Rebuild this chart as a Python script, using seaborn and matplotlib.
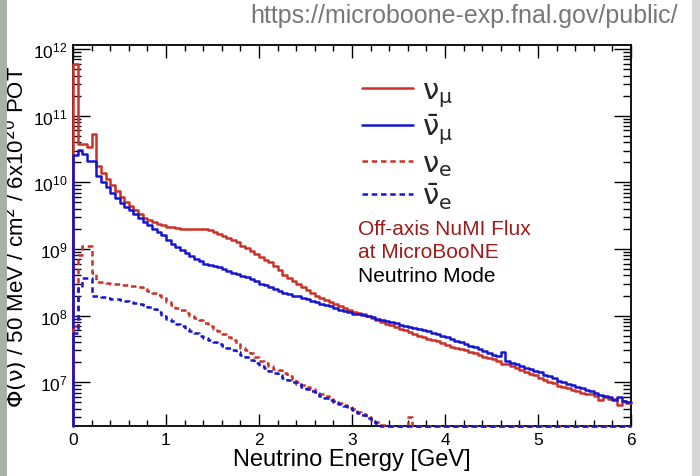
import numpy as np
import pandas as pd
import matplotlib
matplotlib.use("Agg")
import matplotlib.pyplot as plt
from matplotlib.ticker import LogLocator, NullFormatter, MultipleLocator, FixedLocator, LogFormatterSciNotation
from matplotlib.patches import Rectangle
import seaborn as sns

# ---------------- data (flux per 50 MeV bin, 0 - 6 GeV) ----------------
BIN_WIDTH = 0.05
E_MIN, E_MAX = 0.0, 6.0
Y_MIN, Y_MAX = 2.2e6, 1.15e12

numu = [
    6.0e11, 3.8e10, 3.7e10, 3.4e10, 5.3e10, 1.75e10, 1.40e10, 1.12e10, 9.0e9, 7.4e9,
    6.1e9, 5.1e9, 4.4e9, 3.8e9, 3.3e9, 2.95e9, 2.7e9, 2.5e9, 2.35e9, 2.25e9,
    2.15e9, 2.1e9, 2.05e9, 2.02e9, 2.0e9, 2.0e9, 2.0e9, 2.0e9, 1.97e9, 1.9e9,
    1.8e9, 1.68e9, 1.57e9, 1.46e9, 1.35e9, 1.25e9, 1.12e9, 1.02e9, 9.4e8, 8.5e8,
    7.6e8, 6.9e8, 6.3e8, 5.6e8, 4.8e8, 4.1e8, 3.6e8, 3.25e8, 2.95e8, 2.65e8,
    2.4e8, 2.2e8, 2.0e8, 1.85e8, 1.72e8, 1.6e8, 1.5e8, 1.4e8, 1.3e8, 1.22e8,
    1.15e8, 1.1e8, 1.05e8, 9.8e7, 9.2e7, 8.6e7, 8.0e7, 7.5e7, 7.1e7, 6.7e7,
    6.3e7, 6.0e7, 5.7e7, 5.3e7, 5.0e7, 4.8e7, 4.5e7, 4.3e7, 4.1e7, 3.9e7,
    3.6e7, 3.4e7, 3.3e7, 3.15e7, 3.0e7, 2.85e7, 2.7e7, 2.55e7, 2.4e7, 2.3e7,
    2.2e7, 2.05e7, 1.9e7, 1.85e7, 1.75e7, 1.65e7, 1.55e7, 1.42e7, 1.35e7, 1.27e7,
    1.15e7, 1.08e7, 1.02e7, 9.6e6, 8.9e6, 8.6e6, 8.1e6, 7.6e6, 7.5e6, 7.0e6,
    6.6e6, 6.6e6, 6.1e6, 5.4e6, 6.0e6, 5.6e6, 5.5e6, 4.6e6, 5.2e6, 4.9e6,
]

numubar = [
    2.6e10, 3.1e10, 2.7e10, 2.1e10, 2.1e10, 1.25e10, 1.02e10, 8.5e9, 6.9e9, 5.8e9,
    4.9e9, 4.3e9, 3.8e9, 3.35e9, 2.95e9, 2.55e9, 2.25e9, 2.0e9, 1.78e9, 1.6e9,
    1.35e9, 1.2e9, 1.07e9, 9.6e8, 8.8e8, 7.9e8, 7.0e8, 6.5e8, 6.0e8, 5.8e8,
    5.6e8, 5.3e8, 5.0e8, 4.7e8, 4.4e8, 4.2e8, 3.95e8, 3.75e8, 3.5e8, 3.25e8,
    3.0e8, 2.85e8, 2.65e8, 2.5e8, 2.35e8, 2.2e8, 2.1e8, 2.0e8, 1.94e8, 1.85e8,
    1.75e8, 1.65e8, 1.6e8, 1.5e8, 1.42e8, 1.37e8, 1.3e8, 1.22e8, 1.17e8, 1.12e8,
    1.07e8, 1.04e8, 1.02e8, 9.8e7, 9.5e7, 9.0e7, 8.6e7, 8.3e7, 8.0e7, 7.6e7,
    7.3e7, 7.0e7, 6.8e7, 6.5e7, 6.3e7, 6.0e7, 5.8e7, 5.5e7, 5.2e7, 5.0e7,
    4.7e7, 4.45e7, 4.2e7, 4.0e7, 3.8e7, 3.55e7, 3.35e7, 3.15e7, 2.95e7, 2.75e7,
    2.6e7, 2.45e7, 2.85e7, 2.1e7, 1.95e7, 1.85e7, 1.75e7, 1.65e7, 1.57e7, 1.48e7,
    1.4e7, 1.3e7, 1.24e7, 1.15e7, 1.05e7, 1.0e7, 9.5e6, 9.0e6, 8.5e6, 8.1e6,
    7.6e6, 7.3e6, 6.8e6, 6.5e6, 6.2e6, 5.9e6, 5.4e6, 5.9e6, 5.2e6, 5.0e6,
]

nue = [
    7.0e7, 8.0e8, 1.1e9, 1.1e9, 4.4e8, 3.2e8, 3.15e8, 3.1e8, 3.0e8, 2.95e8,
    2.9e8, 2.85e8, 2.8e8, 2.75e8, 2.65e8, 2.5e8, 2.35e8, 2.2e8, 2.05e8, 1.85e8,
    1.62e8, 1.45e8, 1.3e8, 1.2e8, 1.1e8, 1.0e8, 9.2e7, 8.5e7, 7.8e7, 7.0e7,
    6.3e7, 5.8e7, 5.3e7, 4.8e7, 4.3e7, 3.8e7, 3.3e7, 3.0e7, 2.7e7, 2.4e7,
    2.1e7, 1.95e7, 1.75e7, 1.6e7, 1.5e7, 1.38e7, 1.25e7, 1.1e7, 1.0e7, 9.2e6,
    8.4e6, 7.8e6, 7.2e6, 6.7e6, 6.2e6, 5.8e6, 5.3e6, 4.8e6, 4.5e6, 4.2e6,
    3.9e6, 3.6e6, 3.3e6, 3.0e6, 2.7e6, 2.5e6, 2.3e6, 0, 0, 0,
    0, 0, 3.0e6, 0, 0, 0, 0, 0, 0, 0,
    0, 0, 0, 0, 0, 0, 0, 0, 0, 0,
    0, 0, 0, 0, 0, 0, 0, 0, 0, 0,
    0, 0, 0, 0, 0, 0, 0, 0, 0, 0,
    0, 0, 0, 0, 0, 0, 0, 0, 0, 0,
]

nuebar = [
    5.5e7, 2.6e8, 3.6e8, 3.6e8, 2.0e8, 1.95e8, 1.9e8, 1.85e8, 1.8e8, 1.75e8,
    1.7e8, 1.65e8, 1.6e8, 1.55e8, 1.5e8, 1.42e8, 1.35e8, 1.27e8, 1.12e8, 1.0e8,
    8.9e7, 8.2e7, 7.5e7, 6.9e7, 6.3e7, 5.9e7, 5.4e7, 5.0e7, 4.6e7, 4.3e7,
    4.0e7, 3.7e7, 3.5e7, 3.25e7, 3.0e7, 2.8e7, 2.6e7, 2.4e7, 2.15e7, 1.95e7,
    1.77e7, 1.62e7, 1.48e7, 1.36e7, 1.26e7, 1.15e7, 1.07e7, 1.0e7, 9.3e6, 8.6e6,
    8.0e6, 7.4e6, 6.9e6, 6.3e6, 5.8e6, 5.4e6, 5.0e6, 4.7e6, 4.4e6, 4.1e6,
    3.8e6, 3.5e6, 3.2e6, 2.9e6, 2.6e6, 2.4e6, 2.2e6, 0, 0, 0,
    0, 0, 0, 0, 0, 0, 0, 0, 0, 0,
    0, 0, 0, 0, 0, 0, 0, 0, 0, 0,
    0, 0, 0, 0, 0, 0, 0, 0, 0, 0,
    0, 0, 0, 0, 0, 0, 0, 0, 0, 0,
    0, 0, 0, 0, 0, 0, 0, 0, 0, 0,
]

series_names = ["numu", "numubar", "nue", "nuebar"]
series_labels = [r"$\nu_{\mu}$", r"$\bar{\nu}_{\mu}$", r"$\nu_{e}$", r"$\bar{\nu}_{e}$"]
x_tick_values = [0, 1, 2, 3, 4, 5, 6]
y_tick_values = [1e7, 1e8, 1e9, 1e10, 1e11, 1e12]

RED = "#cb3229"
BLUE = "#1616d0"

# ---------------- build step table ----------------
edges = E_MIN + BIN_WIDTH * np.arange(len(numu) + 1)
rows = []
for name, vals in zip(series_names, [numu, numubar, nue, nuebar]):
    v = np.asarray(vals, dtype=float)
    v = np.where(v > 0, v, Y_MIN)  # empty bins drawn on the floor, as ROOT does
    xs = np.concatenate([[edges[0]], edges])
    ys = np.concatenate([[Y_MIN], v, [v[-1]]])
    for xx, yy in zip(xs, ys):
        rows.append({"E": xx, "flux": yy, "series": name})
df = pd.DataFrame(rows)

# ---------------- figure ----------------
sns.set_theme(style="ticks")
plt.rcParams["font.family"] = ["Liberation Sans", "DejaVu Sans"]
plt.rcParams["mathtext.fontset"] = "custom"
plt.rcParams["mathtext.rm"] = "DejaVu Sans"
plt.rcParams["mathtext.it"] = "DejaVu Sans"
plt.rcParams["mathtext.bf"] = "DejaVu Sans:bold"

fig = plt.figure(figsize=(7.0, 4.77), dpi=100)
fig.patch.set_facecolor("white")
ax = fig.add_axes([73 / 700, 1 - 427 / 477, 558 / 700, 381 / 477])

sns.lineplot(
    data=df, x="E", y="flux", hue="series", style="series",
    hue_order=series_names, style_order=series_names,
    palette={"numu": RED, "numubar": BLUE, "nue": RED, "nuebar": BLUE},
    dashes={"numu": "", "numubar": "", "nue": (2.2, 1.5), "nuebar": (2.2, 1.5)},
    estimator=None, sort=False, drawstyle="steps-post", linewidth=1.8,
    legend=False, ax=ax,
)
for ln in ax.get_lines():
    ln.set_clip_on(False)
    ln.set_zorder(3)

ax.set_yscale("log")
ax.set_xlim(E_MIN, E_MAX)
ax.set_ylim(Y_MIN, Y_MAX)

ax.xaxis.set_major_locator(FixedLocator(x_tick_values))
ax.xaxis.set_minor_locator(MultipleLocator(0.2))
ax.yaxis.set_major_locator(FixedLocator(y_tick_values))
ax.yaxis.set_major_formatter(LogFormatterSciNotation())
ax.yaxis.set_minor_locator(LogLocator(base=10, subs=np.arange(2, 10)))
ax.yaxis.set_minor_formatter(NullFormatter())

ax.tick_params(which="both", direction="in", top=True, right=True,
               colors="black", width=1.0, labelsize=12.5)
ax.xaxis.set_tick_params(which="major", length=9, pad=4)
ax.xaxis.set_tick_params(which="minor", length=4.5)
ax.yaxis.set_tick_params(which="major", length=12, pad=4)
ax.yaxis.set_tick_params(which="minor", length=6)
for s in ax.spines.values():
    s.set_color("black")
    s.set_linewidth(1.3)

ax.set_xlabel("Neutrino Energy [GeV]", fontsize=17, labelpad=1)
ax.set_ylabel(r"$\Phi(\nu)$ / 50 MeV / cm$^{2}$ / 6x10$^{20}$ POT", fontsize=16, labelpad=2)
ax.xaxis.label.set_color("black")
ax.yaxis.label.set_color("black")

# legend
handles = ax.get_lines()[:4]
leg = ax.legend(handles, series_labels, loc="upper left",
                bbox_to_anchor=((362 - 73) / 558, 1 - (77 - 46) / 381),
                frameon=False, fontsize=21, handlelength=1.75, handletextpad=0.3,
                labelspacing=0.1, borderpad=0, borderaxespad=0)

ax.text((358 - 73) / 558, (427 - 230) / 381, "Off-axis NuMI Flux", transform=ax.transAxes,
        fontsize=15, color="#9e1b1b", va="center", ha="left")
ax.text((358 - 73) / 558, (427 - 253) / 381, "at MicroBooNE", transform=ax.transAxes,
        fontsize=15, color="#9e1b1b", va="center", ha="left")
ax.text((358 - 73) / 558, (427 - 277) / 381, "Neutrino Mode", transform=ax.transAxes,
        fontsize=15, color="black", va="center", ha="left")

fig.text(250 / 700, 1 - 16 / 477, "https://microboone-exp.fnal.gov/public/",
         fontsize=18, color="#777777", va="center", ha="left")

# screenshot edge strips
fig.patches.append(Rectangle((0, 0), 7 / 700, 1, transform=fig.transFigure,
                             facecolor="#a9b1a3", edgecolor="none", zorder=0))
fig.patches.append(Rectangle((692 / 700, 0), 8 / 700, 1, transform=fig.transFigure,
                             facecolor="#d6d6d6", edgecolor="none", zorder=0))

fig.savefig("out.png", dpi=100)
